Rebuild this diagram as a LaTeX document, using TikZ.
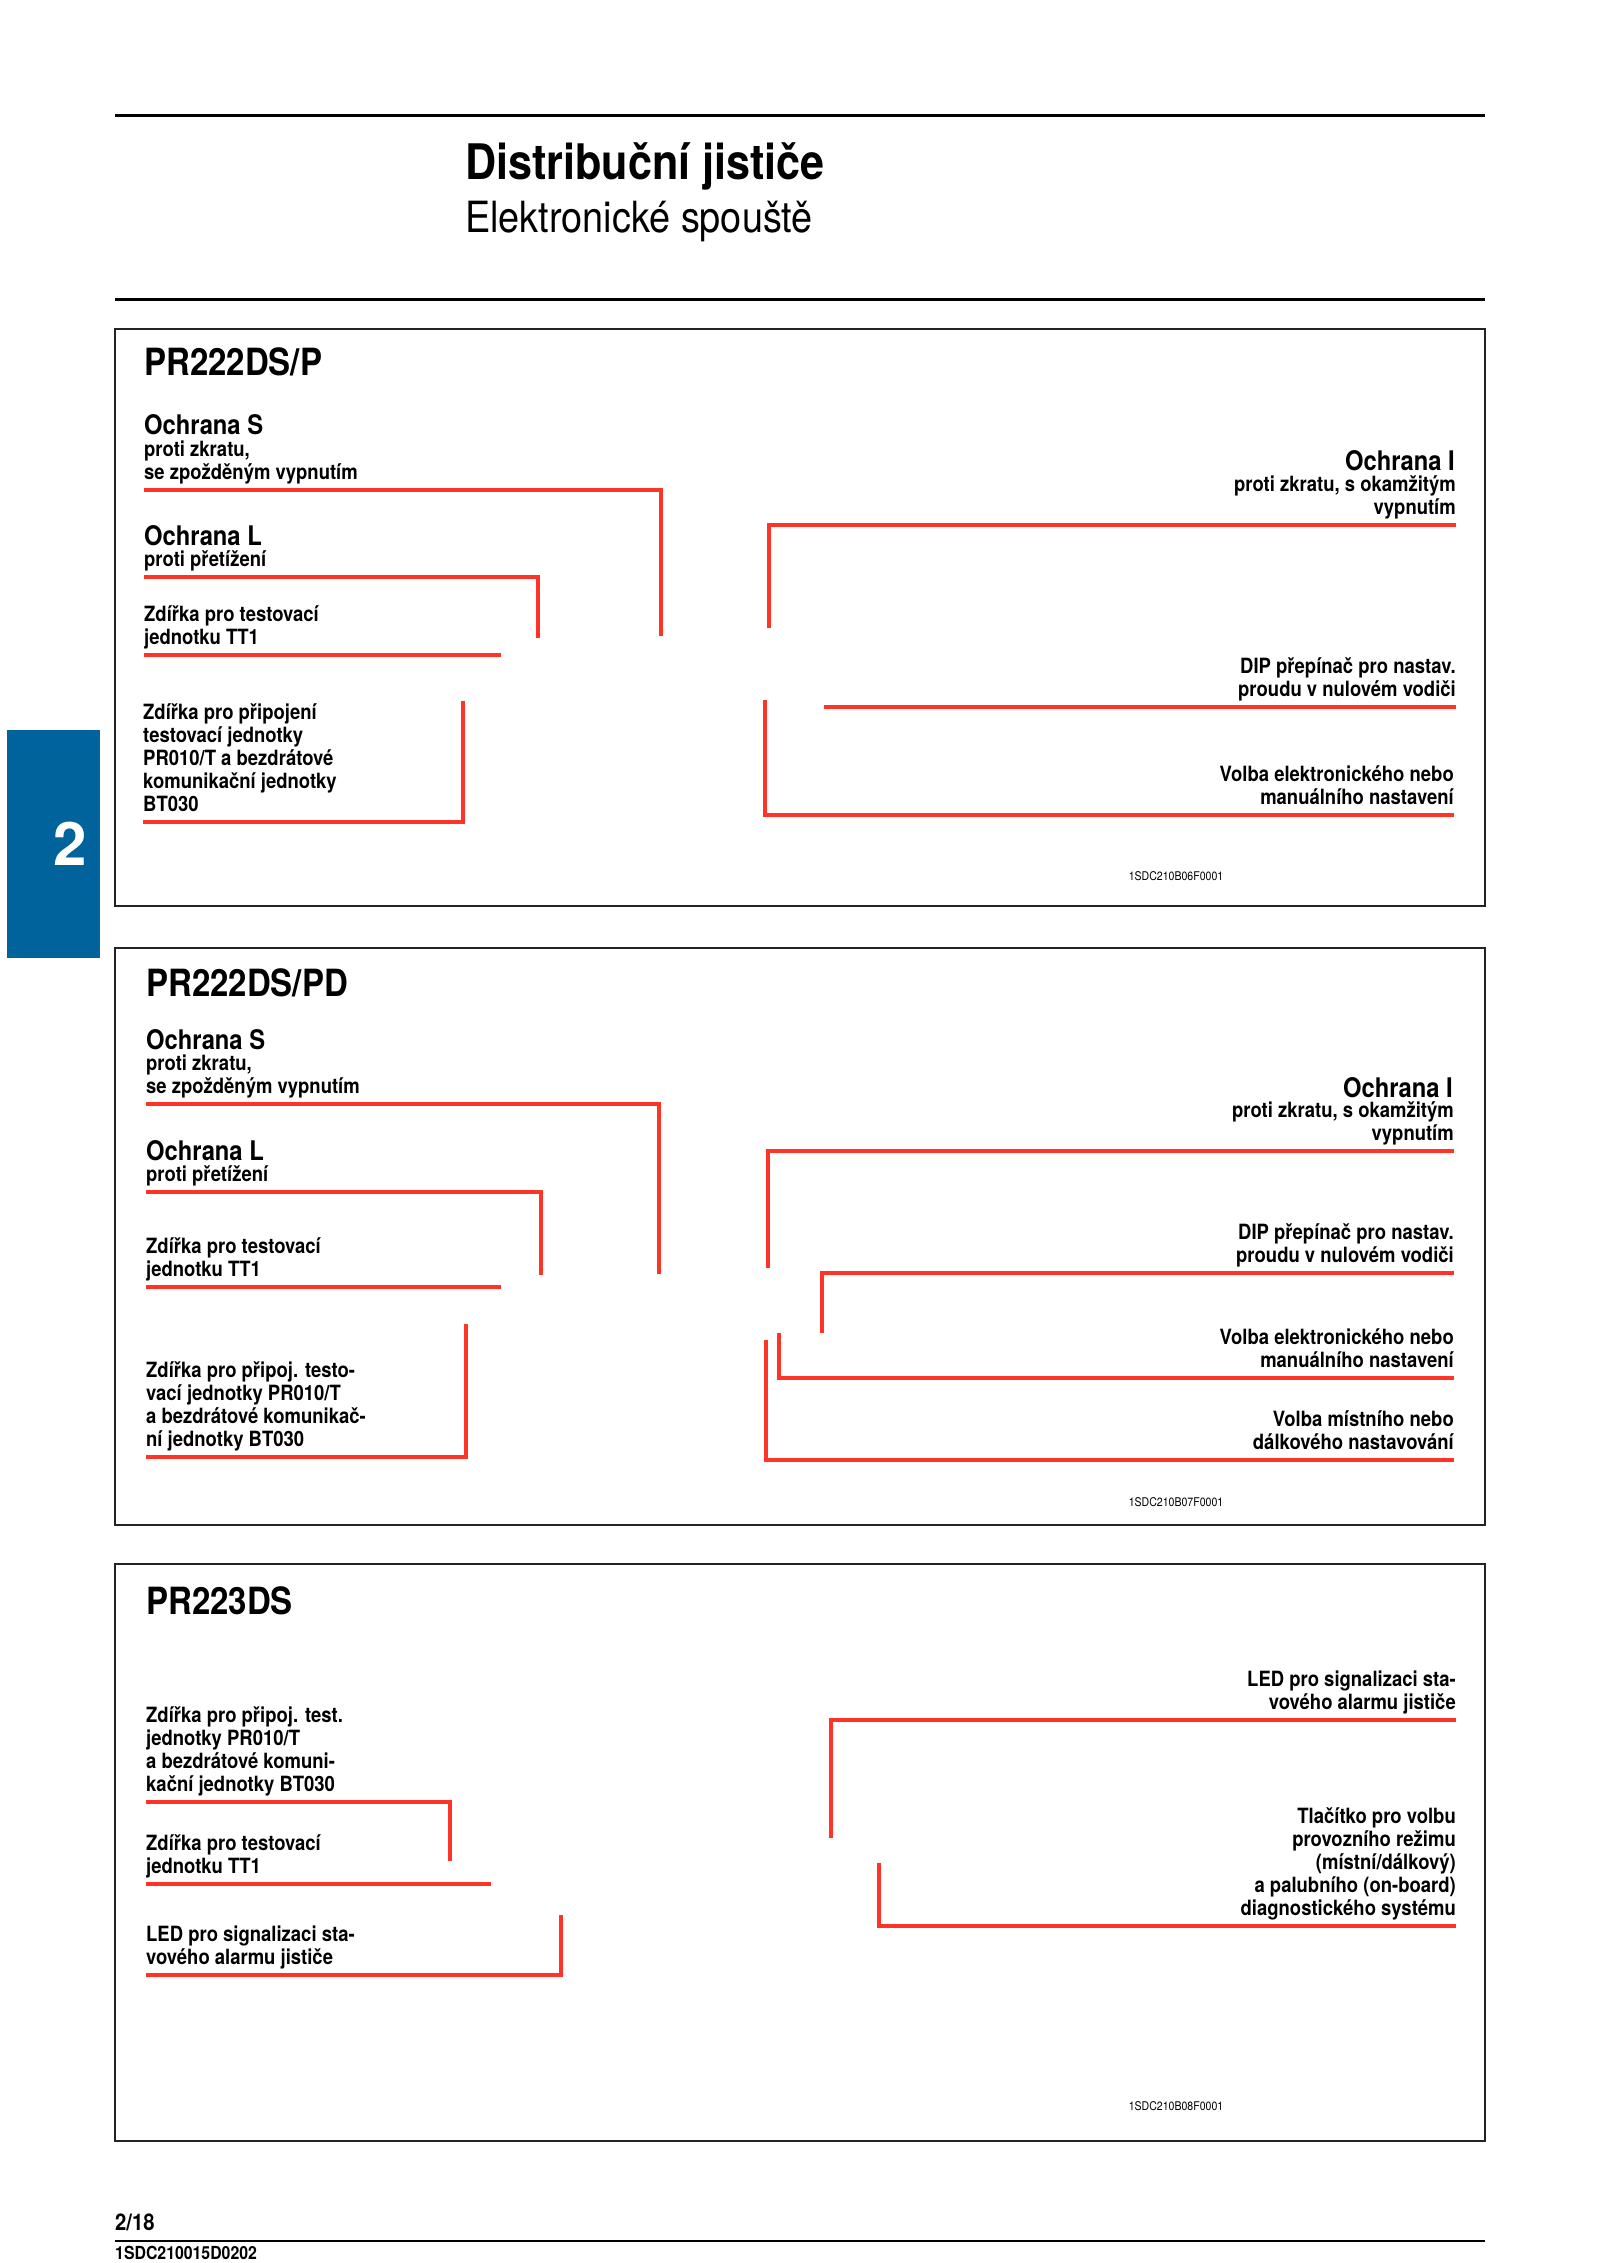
\documentclass[tikz,border=0pt]{standalone}
\usepackage{fontspec}
\setmainfont{TeX Gyre Heros}[FakeStretch=0.88]
\newfontfamily\plainheros{TeX Gyre Heros}
\usepackage{tikz}
\usetikzlibrary{positioning, calc}
\definecolor{abbred}{RGB}{255,51,38}
\definecolor{tabblue}{RGB}{0,99,155}
\definecolor{framegray}{RGB}{35,35,35}

\tikzset{
  lbl/.style={font=\fontsize{21}{23}\selectfont\bfseries, align=left, anchor=south west,
    inner xsep=0pt, inner ysep=3pt, execute at end node=\strut},
  rlbl/.style={lbl, align=right, anchor=south east},
  head/.style={font=\fontsize{27}{29}\selectfont\bfseries, anchor=base west, inner sep=0pt},
  rhead/.style={head, anchor=base east},
  model/.style={font=\fontsize{37.5}{40}\selectfont\bfseries, anchor=base west, inner sep=0pt},
  leader/.style={draw=abbred, line width=3.2pt},
  frame/.style={draw=framegray, line width=1.8pt},
  hrule/.style={draw=black, line width=3pt},
  figcode/.style={font=\fontsize{12}{14}\selectfont, inner sep=0pt},
}

\begin{document}
\begin{tikzpicture}[x=1pt,y=-1pt]
    \useasboundingbox (0,0) rectangle (1600,2263);
    % page header
    \draw[hrule] (115,115) -- (1485,115);
    \node[anchor=base west, inner sep=0pt, font=\fontsize{49}{52}\selectfont\bfseries] (title) at (465,179) {Distribuční jističe};
    \node[anchor=base west, inner sep=0pt, font=\fontsize{43}{46}\selectfont] (subtitle) at (465,232) {Elektronické spouště};
    \draw[hrule] (115,299) -- (1485,299);
    % section tab
    \fill[tabblue] (7,730) rectangle (100,958);
    \node[text=white, font=\plainheros\fontsize{60}{60}\selectfont\bfseries] (tabnum) at (70,844) {2};

    % --- PR222DS/P
    \draw[frame] (115,329) rectangle (1485,906);
    \node[model] (m1) at (144,375) {PR222DS/P};
    \node[head] (hS1) at (144,434) {Ochrana S};
    \node[lbl] (s1) at (144,490) {proti zkratu,\\se zpožděným vypnutím};
    \node[head] (hL1) at (144,545) {Ochrana L};
    \node[lbl] (l1) at (144,577) {proti přetížení};
    \node[lbl] (tt1) at (144,655) {Zdířka pro testovací\\jednotku TT1};
    \node[lbl] (bt1) at (143,822) {Zdířka pro připojení\\testovací jednotky\\PR010/T a bezdrátové\\komunikační jednotky\\BT030};
    \node[rhead] (hI1) at (1455,470) {Ochrana I};
    \node[rlbl] (i1) at (1456,525) {proti zkratu, s okamžitým\\vypnutím};
    \node[rlbl] (dip1) at (1456,707) {DIP přepínač pro nastav.\\proudu v nulovém vodiči};
    \node[rlbl] (vo1) at (1454,815) {Volba elektronického nebo\\manuálního nastavení};
    \node[figcode] (code1) at (1176,876) {1SDC210B06F0001};
    \coordinate (s1e) at (661,636);
    \coordinate (l1e) at (538,638);
    \coordinate (tt1e) at (501,655);
    \coordinate (bt1e) at (463,701);
    \coordinate (i1e) at (769,628);
    \coordinate (dip1e) at (824,707);
    \coordinate (vo1e) at (765,700);
    \draw[leader] (s1.south west) -| (s1e);
    \draw[leader] (l1.south west) -| (l1e);
    \draw[leader] (tt1.south west) -- (tt1e |- tt1.south west);
    \draw[leader] (bt1.south west) -| (bt1e);
    \draw[leader] (i1.south east) -| (i1e);
    \draw[leader] (dip1.south east) -- (dip1e |- dip1.south east);
    \draw[leader] (vo1.south east) -| (vo1e);

    % --- PR222DS/PD
    \draw[frame] (115,948) rectangle (1485,1525);
    \node[model] (m2) at (146,996) {PR222DS/PD};
    \node[head] (hS2) at (146,1049) {Ochrana S};
    \node[lbl] (s2) at (146,1104) {proti zkratu,\\se zpožděným vypnutím};
    \node[head] (hL2) at (146,1160) {Ochrana L};
    \node[lbl] (l2) at (146,1192) {proti přetížení};
    \node[lbl] (tt2) at (146,1287) {Zdířka pro testovací\\jednotku TT1};
    \node[lbl] (bt2) at (146,1457) {Zdířka pro připoj. testo-\\vací jednotky PR010/T\\a bezdrátové komunikač-\\ní jednotky BT030};
    \node[rhead] (hI2) at (1453,1097) {Ochrana I};
    \node[rlbl] (i2) at (1454,1151) {proti zkratu, s okamžitým\\vypnutím};
    \node[rlbl] (dip2) at (1454,1273) {DIP přepínač pro nastav.\\proudu v nulovém vodiči};
    \node[rlbl] (vo2) at (1454,1378) {Volba elektronického nebo\\manuálního nastavení};
    \node[rlbl] (mi2) at (1454,1460) {Volba místního nebo\\dálkového nastavování};
    \node[figcode] (code2) at (1176,1502) {1SDC210B07F0001};
    \coordinate (s2e) at (659,1274);
    \coordinate (l2e) at (541,1275);
    \coordinate (tt2e) at (501,1287);
    \coordinate (bt2e) at (466,1324);
    \coordinate (i2e) at (768,1268);
    \coordinate (dip2e) at (822,1333);
    \coordinate (vo2e) at (779,1333);
    \coordinate (mi2e) at (766,1340);
    \draw[leader] (s2.south west) -| (s2e);
    \draw[leader] (l2.south west) -| (l2e);
    \draw[leader] (tt2.south west) -- (tt2e |- tt2.south west);
    \draw[leader] (bt2.south west) -| (bt2e);
    \draw[leader] (i2.south east) -| (i2e);
    \draw[leader] (dip2.south east) -| (dip2e);
    \draw[leader] (vo2.south east) -| (vo2e);
    \draw[leader] (mi2.south east) -| (mi2e);

    % --- PR223DS
    \draw[frame] (115,1564) rectangle (1485,2141);
    \node[model] (m3) at (146,1614) {PR223DS};
    \node[lbl] (bt3) at (146,1802) {Zdířka pro připoj. test.\\jednotky PR010/T\\a bezdrátové komuni-\\kační jednotky BT030};
    \node[lbl] (tt3) at (146,1884) {Zdířka pro testovací\\jednotku TT1};
    \node[lbl] (led3) at (146,1975) {LED pro signalizaci sta-\\vového alarmu jističe};
    \node[rlbl] (ledr3) at (1456,1720) {LED pro signalizaci sta-\\vového alarmu jističe};
    \node[rlbl] (tl3) at (1456,1926) {Tlačítko pro volbu\\provozního režimu\\(místní/dálkový)\\a palubního (on-board)\\diagnostického systému};
    \node[figcode] (code3) at (1176,2106) {1SDC210B08F0001};
    \coordinate (bt3e) at (450,1861);
    \coordinate (tt3e) at (491,1884);
    \coordinate (led3e) at (561,1915);
    \coordinate (ledr3e) at (831,1838);
    \coordinate (tl3e) at (879,1863);
    \draw[leader] (bt3.south west) -| (bt3e);
    \draw[leader] (tt3.south west) -- (tt3e |- tt3.south west);
    \draw[leader] (led3.south west) -| (led3e);
    \draw[leader] (ledr3.south east) -| (ledr3e);
    \draw[leader] (tl3.south east) -| (tl3e);

    % page footer
    \node[anchor=base west, inner sep=0pt, font=\fontsize{23}{25}\selectfont\bfseries] (page) at (115,2230) {2/18};
    \draw[draw=black, line width=2pt] (115,2241) -- (1485,2241);
    \node[anchor=base west, inner sep=0pt, font=\fontsize{18}{20}\selectfont\bfseries] (doccode) at (115,2259) {1SDC210015D0202};
\end{tikzpicture}
\end{document}
